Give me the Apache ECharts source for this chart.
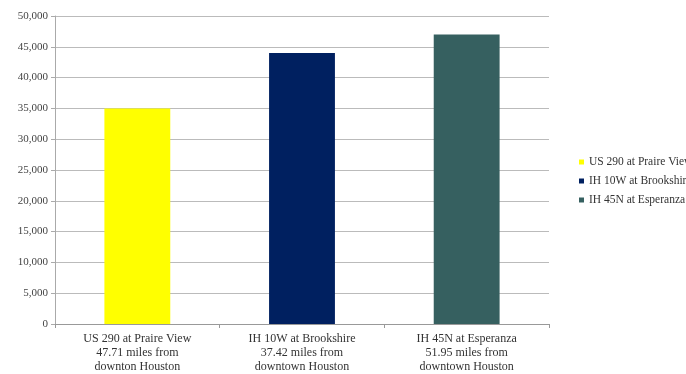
<!DOCTYPE html>
<html><head><meta charset="utf-8">
<script src="https://cdn.jsdelivr.net/npm/echarts@6/dist/echarts.min.js"></script>
<style>html,body{margin:0;padding:0;background:#fff}#c{width:686px;height:374px}</style>
</head><body><div id="c"></div>
<script>
const categories = ["US 290 at Praire View\n47.71 miles from\ndownton Houston", "IH 10W at Brookshire\n37.42 miles from\ndowntown Houston", "IH 45N at Esperanza\n51.95 miles from\ndowntown Houston"];
const seriesNames = ["US 290 at Praire View", "IH 10W at Brookshire", "IH 45N at Esperanza"];
const values = [35000, 44000, 47000];
const colors = ["#FFFF00", "#002060", "#366060"];
const font = "'Liberation Serif', 'DejaVu Serif', serif";
const chart = echarts.init(document.getElementById('c'));
const series = seriesNames.map((n, i) => ({
  name: n, type: 'bar', barWidth: '40%', barGap: '-100%',
  itemStyle: { color: colors[i] },
  data: categories.map((c, j) => j === i ? values[i] : '-')
}));
chart.setOption({
  animation: false,
  color: colors,
  grid: { left: 55, right: 137, top: 16, bottom: 50 },
  legend: {
    orient: 'vertical', left: 574, top: 151, itemWidth: 5, itemHeight: 5, itemGap: 7,
    icon: 'rect', data: seriesNames,
    textStyle: { fontFamily: font, fontSize: 11.5, color: '#333' }
  },
  xAxis: {
    type: 'category', data: categories,
    axisLine: { lineStyle: { color: '#999' } },
    axisTick: { show: true, alignWithLabel: false, length: 4, lineStyle: { color: '#999' } },
    axisLabel: { fontFamily: font, fontSize: 12, color: '#333', lineHeight: 14, margin: 8, interval: 0 }
  },
  yAxis: {
    type: 'value', min: 0, max: 50000, interval: 5000,
    axisLine: { show: true, lineStyle: { color: '#aaa' } },
    axisTick: { show: true, length: 4, lineStyle: { color: '#aaa' } },
    splitLine: { lineStyle: { color: '#bbb' } },
    axisLabel: { fontFamily: font, fontSize: 11, color: '#444', margin: 7,
      formatter: v => v.toLocaleString('en-US') }
  },
  series
});
</script></body></html>
